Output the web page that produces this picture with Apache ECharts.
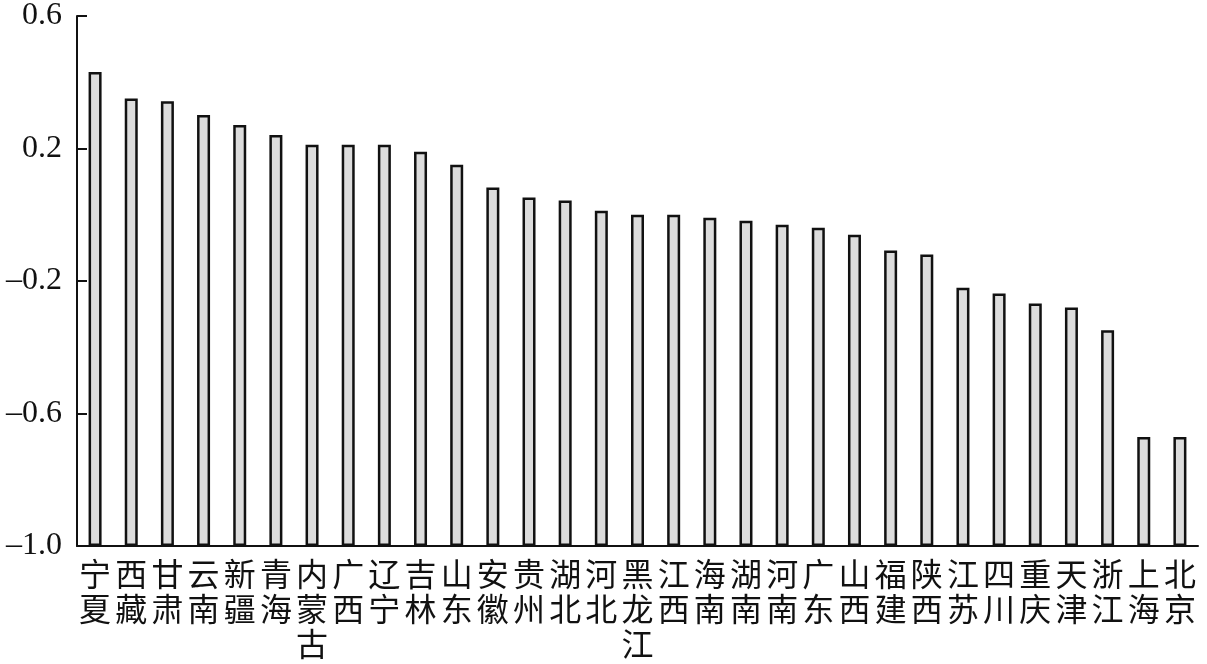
<!DOCTYPE html>
<html>
<head>
<meta charset="utf-8">
<script src="https://cdn.jsdelivr.net/npm/echarts@6/dist/echarts.min.js"></script>
<style>
html, body { margin: 0; padding: 0; background: #fff; }
#chart { width: 1207px; height: 664px; }
</style>
</head>
<body>
<div id="chart"></div>
<script>
// 省份
var provinces = ['宁夏', '西藏', '甘肃', '云南', '新疆', '青海', '内蒙古', '广西', '辽宁', '吉林', '山东',
	'安徽', '贵州', '湖北', '河北', '黑龙江', '江西', '海南', '湖南', '河南', '广东', '山西',
	'福建', '陕西', '江苏', '四川', '重庆', '天津', '浙江', '上海', '北京'];
// 数值
var values = [0.431, 0.351, 0.343, 0.301, 0.271, 0.241, 0.211, 0.211, 0.211, 0.190, 0.151,
	0.082, 0.052, 0.043, 0.012, 0.000, 0.000, -0.009, -0.018, -0.030, -0.039, -0.060,
	-0.108, -0.120, -0.220, -0.238, -0.268, -0.280, -0.349, -0.671, -0.671];
// 纵轴刻度
var yMin = -1.0, yMax = 0.6, yStep = 0.4;

var chart = echarts.init(document.getElementById('chart'));
chart.setOption({
	animation: false,
	grid: { left: 77, right: 9, top: 15, bottom: 118, containLabel: false },
	xAxis: {
		type: 'category',
		data: provinces,
		boundaryGap: true,
		axisLine: { onZero: false, lineStyle: { color: '#111', width: 2 } },
		axisTick: { inside: true, length: 12, lineStyle: { color: '#111', width: 2 } },
		axisLabel: {
			interval: 0,
			margin: 10,
			color: '#111',
			fontSize: 32,
			lineHeight: 35,
			verticalAlign: 'top',
			fontFamily: '"Noto Sans CJK SC", sans-serif',
			formatter: function (v) { return v.split('').join('\n'); }
		}
	},
	yAxis: {
		type: 'value',
		min: yMin,
		max: yMax,
		interval: yStep,
		startValue: yMin,
		splitLine: { show: false },
		axisLine: { show: true, lineStyle: { color: '#111', width: 2 } },
		axisTick: { show: true, inside: true, length: 10, lineStyle: { color: '#111', width: 2 } },
		axisLabel: {
			margin: 15,
			color: '#111',
			fontSize: 32,
			fontFamily: '"Liberation Serif", serif',
			formatter: function (v) {
				var s = Math.abs(v).toFixed(1);
				return v < -1e-9 ? '\u2013' + s : s;
			}
		}
	},
	series: [{
		type: 'bar',
		data: values,
		barWidth: 13,
		itemStyle: { color: '#dcdcdc', borderColor: '#111', borderWidth: 2.5 }
	}]
});
</script>
</body>
</html>
